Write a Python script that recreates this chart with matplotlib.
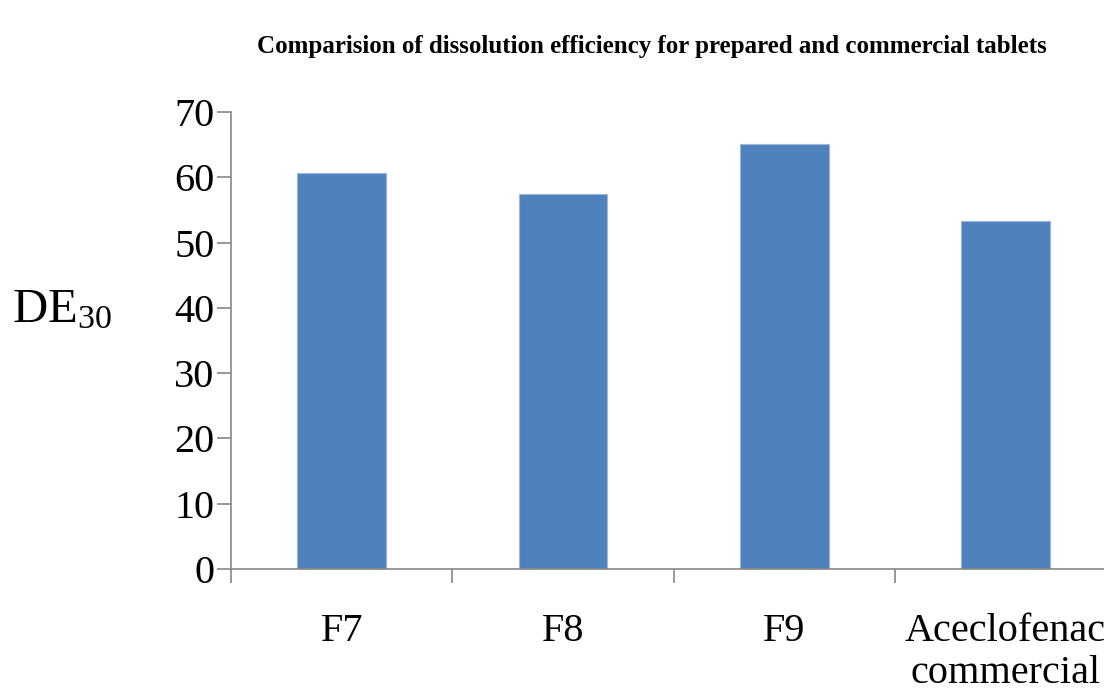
import matplotlib
matplotlib.use("Agg")
import matplotlib.pyplot as plt
import numpy as np

categories = ["F7", "F8", "F9", "Aceclofenac\ncommercial"]
de30 = [60.7, 57.4, 65.2, 53.3]
yticks = [0, 10, 20, 30, 40, 50, 60, 70]

plt.rcParams['font.family'] = ['Liberation Serif', 'DejaVu Serif']
plt.rcParams['mathtext.fontset'] = 'custom'
plt.rcParams['mathtext.rm'] = 'Liberation Serif'
plt.rcParams['mathtext.default'] = 'regular'

grey = '#868686'
fig = plt.figure(figsize=(11.04, 6.97), dpi=100)
ax = fig.add_axes([231 / 1104, 1 - 569 / 697, 885.2 / 1104, (569 - 112.2) / 697])

x = np.arange(len(categories))
ax.bar(x, de30, width=0.4, color='#4F81BD', edgecolor='#9DB6DA', linewidth=0.8, zorder=2)

ax.set_xlim(-0.5, len(categories) - 0.5)
ax.set_ylim(0, 70)
ax.set_yticks(yticks)
ax.set_xticks(x)
ax.set_xticklabels(categories, linespacing=1.15)
ax.set_xticks(np.arange(len(categories)) - 0.5, minor=True)

for s in ['top', 'right']:
    ax.spines[s].set_visible(False)
for s in ['left', 'bottom']:
    ax.spines[s].set_color(grey)
    ax.spines[s].set_linewidth(1.2)
ax.spines['left'].set_bounds(0, 70)

ax.tick_params(axis='y', length=10, width=1.2, color=grey, labelsize=29, pad=2)
ax.tick_params(axis='x', which='major', length=0, labelsize=29, pad=32)
ax.tick_params(axis='x', which='minor', length=10, width=1.2, color=grey)

fig.text(12 / 1104, 1 - 310 / 697, 'DE$_{30}$', fontsize=35, ha='left', va='center')
fig.text(652 / 1104, 1 - 47 / 697,
         'Comparision of dissolution efficiency for prepared and commercial tablets',
         fontsize=18, fontweight='bold', ha='center', va='center')

fig.savefig('out.png', dpi=100)
